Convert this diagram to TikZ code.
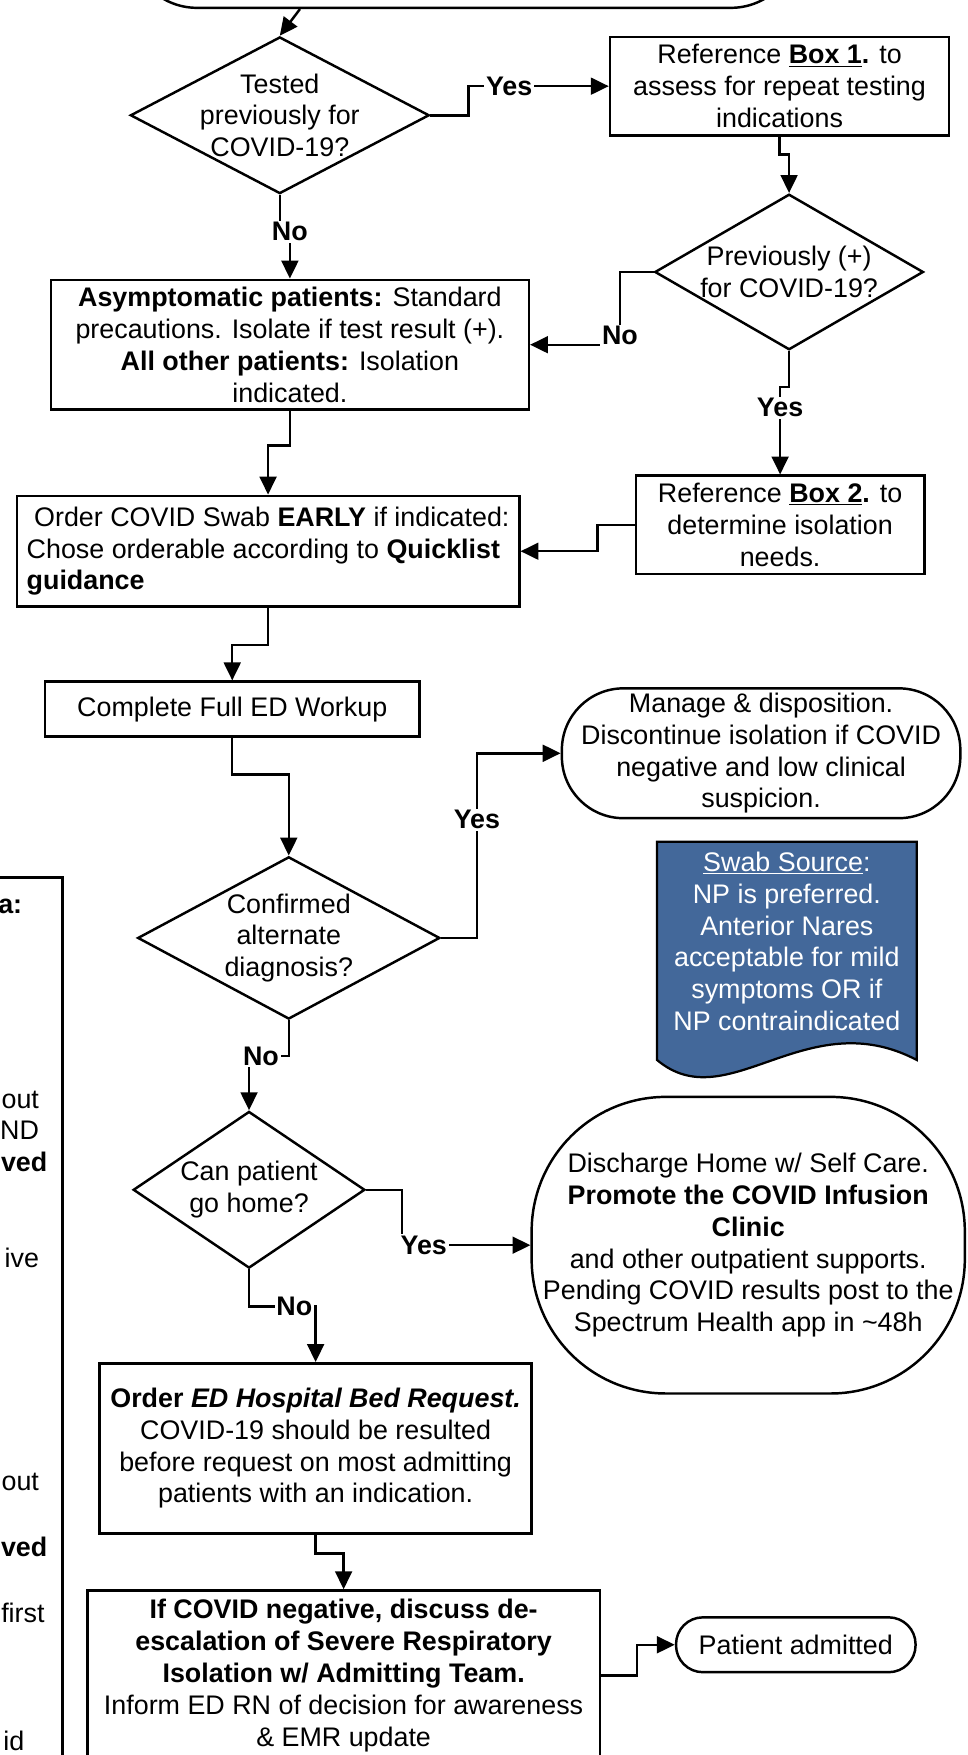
\documentclass[tikz,border=0pt]{standalone}
\usepackage{fontspec}
\setmainfont{Liberation Sans}
\usetikzlibrary{shapes.geometric,arrows.meta}
\definecolor{swabblue}{RGB}{67,104,154}
\newcommand{\flowfont}{\fontsize{24}{28.4}\selectfont}

\tikzset{
  box/.style={draw, line width=2.2pt, inner sep=0pt, align=center},
  term/.style={box, rounded corners=#1},
  dia/.style={draw, diamond, line width=2.2pt, inner sep=0pt},
  lbl/.style={fill=white, font=\flowfont\bfseries, inner sep=1.5pt},
  arr/.style={line width=2.2pt, -{Triangle[length=16pt,width=15pt]}},
}

\begin{document}
\begin{tikzpicture}[x=1pt,y=-1pt,font=\flowfont]
\useasboundingbox (0,0) rectangle (864,1568);
\fill[white] (0,0) rectangle (864,1568);

% left criteria box, mostly outside the page
\node[box, minimum width=356pt, minimum height=916pt] (crit) at (-122,1242) {};
\foreach \yy/\xx/\frag [count=\i] in {810/20/\textbf{a:}, 983/35/out, 1010/35/ND,
    1038/42.5/\textbf{ved}, 1124/35/ive, 1324/35/out, 1382/42.5/\textbf{ved}, 1441/40/first, 1555/22/id}
  \node[anchor=east, inner sep=0pt] (crit\i) at (\xx,\yy) {\frag};

\node[term=60pt, minimum width=597pt, minimum height=120pt] (start) at (414.5,-53) {};

\node[dia, minimum width=267pt, minimum height=140pt] (q1) at (250,103) {};
\node[align=center] (q1t) at (q1) {Tested\\previously for\\COVID-19?};
\node[box, minimum width=303pt, minimum height=88pt] (b1) at (696.5,77)
  {Reference \underline{\textbf{Box 1}}\textbf{.} to\\assess for repeat testing\\indications};
\node[dia, minimum width=240pt, minimum height=139pt] (q2) at (705,243) {};
\node[align=center] (q2t) at (q2) {Previously (+)\\for COVID-19?};
\node[box, minimum width=427pt, minimum height=116pt] (a1) at (259,308)
  {\textbf{Asymptomatic patients:} Standard\\precautions. Isolate if test result (+).\\\textbf{All other patients:} Isolation\\indicated.};
\node[box, minimum width=258pt, minimum height=88pt] (b2) at (697,469)
  {Reference \underline{\textbf{Box 2}}\textbf{.} to\\determine isolation\\needs.};
\node[box, align=left, minimum width=449pt, minimum height=99pt] (o1) at (239.5,492.5)
  {\hspace*{.28em}Order COVID Swab \textbf{EARLY} if indicated:\\Chose orderable according to \textbf{Quicklist}\\\textbf{guidance}};
\node[box, minimum width=335pt, minimum height=49pt] (w1) at (207.5,633.5) {Complete Full ED Workup};
\node[term=55pt, minimum width=356pt, minimum height=116pt] (t1) at (680,673)
  {Manage \& disposition.\\Discontinue isolation if COVID\\negative and low clinical\\suspicion.};
\node[dia, minimum width=270pt, minimum height=145pt] (q3) at (258,838) {};
\node[align=center] (q3t) at (q3) {Confirmed\\alternate\\diagnosis?};

% swab source document shape
\draw[line width=2pt, fill=swabblue] (587,752) -- (819,752) -- (819,947)
  .. controls (720,895) and (650,1000) .. (587,947) -- cycle;
\node[text=white, align=center] (swab) at (703,841)
  {\underline{Swab Source}:\\NP is preferred.\\Anterior Nares\\acceptable for mild\\symptoms OR if\\NP contraindicated};

\node[dia, minimum width=207pt, minimum height=140pt] (q4) at (222.5,1063) {};
\node[align=center] (q4t) at (q4) {Can patient\\go home?};
\node[term=120pt, minimum width=387pt, minimum height=265pt] (e1) at (668.5,1112.5)
  {Discharge Home w/ Self Care.\\\textbf{Promote the COVID Infusion}\\\textbf{Clinic}\\and other outpatient supports.\\Pending COVID results post to the\\Spectrum Health app in \textasciitilde48h};
\node[box, minimum width=386pt, minimum height=152pt] (h1) at (282,1294)
  {\textbf{Order \textit{ED Hospital Bed Request.}}\\COVID-19 should be resulted\\before request on most admitting\\patients with an indication.};
\node[box, minimum width=458pt, minimum height=152pt] (d1) at (307,1497)
  {\textbf{If COVID negative, discuss de-}\\\textbf{escalation of Severe Respiratory}\\\textbf{Isolation w/ Admitting Team.}\\Inform ED RN of decision for awareness\\\& EMR update};
\node[term=24pt, minimum width=214pt, minimum height=49pt] (p1) at (711,1469.5) {Patient admitted};

\draw[arr] ([xshift=-146.5pt]start.south) -- (q1.north);
\draw[arr] (q1.east) -- ++(34,0) |- (b1.west) node[lbl,pos=.645] {Yes};
\draw[arr] (q1.south) -- ++(0,33) -| (a1.north) node[lbl,pos=.5] {No};
\draw[arr] (b1.south) -- ++(0,16) -| (q2.north);
\draw[arr] (q2.west) -- ++(-30,0) |- (a1.east) node[lbl,pos=.5,yshift=8pt] {No};
\draw[arr] (q2.south) -- ++(0,32) -| (b2.north) node[lbl,pos=.62] {Yes};
\draw[arr] (a1.south) -- ++(0,31) -| (o1.north);
\draw[arr] (b2.west) -- ++(-33,0) |- (o1.east);
\draw[arr] (o1.south) -- ++(0,33) -| (w1.north);
\draw[arr] (w1.south) -- ++(0,33) -| (q3.north);
\draw[arr] (q3.east) -- ++(32,0) |- (t1.west) node[lbl,pos=.32] {Yes};
\draw[arr] (q3.south) -- ++(0,32) -| (q4.north) node[lbl,pos=.35] {No};
\draw[arr] (q4.east) -- ++(32,0) |- (e1.west) node[lbl,pos=.585] {Yes};
\draw[arr] (q4.south) -- ++(0,33) -| (h1.north) node[lbl,pos=.34] {No};
\draw[arr] (h1.south) -- ++(0,17) -| (d1.north);
\draw[arr] (d1.east) -- ++(32,0) |- (p1.west);
\end{tikzpicture}
\end{document}
